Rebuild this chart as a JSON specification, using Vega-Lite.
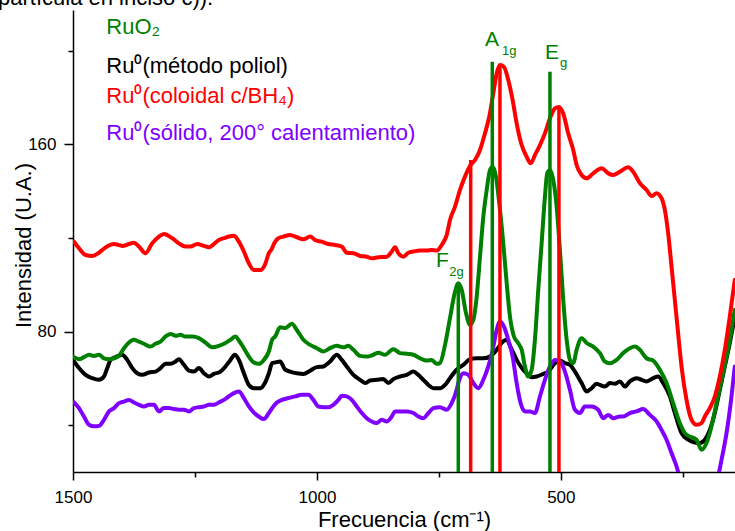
{
  "$schema": "https://vega.github.io/schema/vega-lite/v6.json",
  "width": 662,
  "height": 462,
  "autosize": {"type": "none"},
  "padding": {"left": 73, "top": 10, "right": 0, "bottom": 59},
  "background": "white",
  "config": {"font": "Liberation Sans", "view": {"stroke": null}},
  "datasets": {
    "coloidal": [
      {"freq":1497.9,"int":118.4},{"freq":1487.7,"int":115.6},{"freq":1474.2,"int":112.7},{"freq":1460.5,"int":112.3},{"freq":1446.7,"int":113.7},{"freq":1433.2,"int":116.0},{"freq":1416.0,"int":117.4},{"freq":1399.0,"int":116.6},{"freq":1385.3,"int":117.4},{"freq":1375.1,"int":118.0},{"freq":1364.8,"int":116.3},{"freq":1351.3,"int":113.5},{"freq":1337.6,"int":117.7},{"freq":1323.8,"int":120.6},{"freq":1313.6,"int":121.7},{"freq":1296.6,"int":119.9},{"freq":1282.9,"int":117.7},{"freq":1269.4,"int":116.3},{"freq":1259.1,"int":116.3},{"freq":1245.4,"int":117.4},{"freq":1231.7,"int":116.6},{"freq":1221.4,"int":116.0},{"freq":1211.2,"int":117.4},{"freq":1201.0,"int":119.1},{"freq":1190.7,"int":119.9},{"freq":1180.5,"int":120.6},{"freq":1170.2,"int":120.9},{"freq":1160.0,"int":118.4},{"freq":1149.7,"int":114.2},{"freq":1139.5,"int":109.2},{"freq":1129.3,"int":106.3},{"freq":1115.7,"int":106.3},{"freq":1106.7,"int":108.5},{"freq":1098.5,"int":113.5},{"freq":1091.8,"int":115.6},{"freq":1089.1,"int":117.0},{"freq":1078.9,"int":119.9},{"freq":1068.6,"int":120.6},{"freq":1054.9,"int":121.3},{"freq":1041.2,"int":120.3},{"freq":1027.7,"int":119.4},{"freq":1013.9,"int":120.6},{"freq":1003.7,"int":119.1},{"freq":990.0,"int":118.4},{"freq":976.5,"int":117.4},{"freq":962.7,"int":117.0},{"freq":949.0,"int":116.3},{"freq":938.8,"int":113.7},{"freq":925.2,"int":113.5},{"freq":911.5,"int":112.3},{"freq":897.8,"int":112.0},{"freq":887.6,"int":111.3},{"freq":874.0,"int":111.8},{"freq":856.8,"int":112.0},{"freq":846.6,"int":114.2},{"freq":839.8,"int":116.0},{"freq":833.1,"int":113.5},{"freq":822.8,"int":112.0},{"freq":812.6,"int":113.7},{"freq":802.3,"int":114.2},{"freq":788.6,"int":114.6},{"freq":774.9,"int":114.6},{"freq":764.7,"int":114.9},{"freq":754.4,"int":114.6},{"freq":744.2,"int":117.0},{"freq":733.9,"int":121.3},{"freq":727.2,"int":127.7},{"freq":716.9,"int":133.4},{"freq":706.7,"int":140.5},{"freq":696.5,"int":146.2},{"freq":684.8,"int":151.2},{"freq":676.0,"int":153.3},{"freq":665.7,"int":157.6},{"freq":655.5,"int":164.7},{"freq":646.7,"int":171.8},{"freq":638.5,"int":181.8},{"freq":631.5,"int":190.3},{"freq":624.8,"int":193.9},{"freq":616.6,"int":193.1},{"freq":607.8,"int":187.5},{"freq":598.8,"int":178.9},{"freq":590.6,"int":169.0},{"freq":580.3,"int":159.7},{"freq":570.1,"int":154.7},{"freq":561.9,"int":151.9},{"freq":553.1,"int":155.4},{"freq":542.8,"int":159.7},{"freq":532.6,"int":164.7},{"freq":522.3,"int":171.1},{"freq":512.1,"int":175.4},{"freq":503.9,"int":176.0},{"freq":495.1,"int":173.2},{"freq":484.9,"int":164.7},{"freq":474.6,"int":157.6},{"freq":467.7,"int":151.2},{"freq":457.4,"int":146.9},{"freq":447.2,"int":145.5},{"freq":433.7,"int":147.6},{"freq":416.4,"int":149.8},{"freq":402.9,"int":147.6},{"freq":392.7,"int":146.9},{"freq":379.0,"int":148.3},{"freq":362.0,"int":150.2},{"freq":351.7,"int":148.3},{"freq":338.0,"int":143.4},{"freq":324.3,"int":140.5},{"freq":314.0,"int":137.9},{"freq":303.8,"int":139.1},{"freq":293.6,"int":137.0},{"freq":286.8,"int":132.0},{"freq":280.0,"int":122.0},{"freq":273.1,"int":107.8},{"freq":266.3,"int":93.5},{"freq":259.6,"int":79.3},{"freq":252.6,"int":65.1},{"freq":242.4,"int":50.8},{"freq":232.1,"int":42.3},{"freq":221.9,"int":40.2},{"freq":211.6,"int":40.9},{"freq":204.9,"int":43.7},{"freq":194.6,"int":47.3},{"freq":184.4,"int":52.2},{"freq":174.1,"int":60.8},{"freq":163.9,"int":72.2},{"freq":153.7,"int":86.4},{"freq":143.4,"int":102.1}
    ],
    "ruo2": [
      {"freq":1497.9,"int":69.1},{"freq":1487.7,"int":68.2},{"freq":1477.5,"int":69.1},{"freq":1467.2,"int":70.1},{"freq":1457.0,"int":69.6},{"freq":1446.7,"int":70.1},{"freq":1436.5,"int":68.6},{"freq":1426.3,"int":68.2},{"freq":1416.0,"int":68.6},{"freq":1405.8,"int":69.6},{"freq":1395.5,"int":72.9},{"freq":1385.3,"int":75.3},{"freq":1375.1,"int":76.5},{"freq":1364.8,"int":75.7},{"freq":1354.6,"int":74.8},{"freq":1341.0,"int":73.6},{"freq":1330.8,"int":74.8},{"freq":1320.6,"int":75.7},{"freq":1310.3,"int":77.9},{"freq":1300.1,"int":79.0},{"freq":1289.8,"int":78.2},{"freq":1279.6,"int":78.6},{"freq":1269.4,"int":77.9},{"freq":1255.6,"int":77.9},{"freq":1241.9,"int":77.2},{"freq":1228.4,"int":75.3},{"freq":1214.7,"int":73.3},{"freq":1201.0,"int":73.9},{"freq":1187.4,"int":75.1},{"freq":1177.2,"int":76.5},{"freq":1166.9,"int":77.9},{"freq":1160.0,"int":76.2},{"freq":1149.7,"int":72.9},{"freq":1139.5,"int":69.3},{"freq":1129.3,"int":66.8},{"freq":1119.0,"int":66.2},{"freq":1108.8,"int":67.9},{"freq":1098.5,"int":71.5},{"freq":1091.8,"int":76.5},{"freq":1085.6,"int":77.9},{"freq":1075.4,"int":81.9},{"freq":1065.1,"int":81.5},{"freq":1051.4,"int":83.3},{"freq":1041.2,"int":80.7},{"freq":1027.7,"int":76.5},{"freq":1013.9,"int":74.3},{"freq":1000.2,"int":72.9},{"freq":986.7,"int":71.5},{"freq":973.0,"int":72.9},{"freq":959.3,"int":73.9},{"freq":945.7,"int":73.3},{"freq":935.5,"int":73.9},{"freq":925.2,"int":72.2},{"freq":911.5,"int":69.6},{"freq":897.8,"int":69.3},{"freq":884.3,"int":70.1},{"freq":874.0,"int":71.0},{"freq":860.3,"int":70.1},{"freq":843.3,"int":72.5},{"freq":829.6,"int":70.8},{"freq":815.9,"int":70.5},{"freq":802.3,"int":70.1},{"freq":788.6,"int":68.6},{"freq":774.9,"int":67.6},{"freq":764.7,"int":67.9},{"freq":754.4,"int":66.2},{"freq":747.7,"int":66.6},{"freq":737.4,"int":74.3},{"freq":727.2,"int":85.8},{"freq":716.9,"int":97.0},{"freq":710.2,"int":100.7},{"freq":703.2,"int":97.8},{"freq":694.4,"int":87.9},{"freq":686.2,"int":82.9},{"freq":679.4,"int":85.0},{"freq":672.5,"int":94.9},{"freq":665.7,"int":112.0},{"freq":658.9,"int":129.1},{"freq":652.0,"int":140.5},{"freq":645.2,"int":149.0},{"freq":639.7,"int":150.4},{"freq":633.0,"int":146.2},{"freq":626.2,"int":134.8},{"freq":618.0,"int":117.7},{"freq":611.0,"int":100.7},{"freq":604.3,"int":86.4},{"freq":596.1,"int":77.9},{"freq":587.3,"int":75.0},{"freq":580.3,"int":72.2},{"freq":573.6,"int":65.1},{"freq":566.8,"int":60.8},{"freq":559.8,"int":63.7},{"freq":553.1,"int":76.5},{"freq":546.3,"int":97.8},{"freq":539.4,"int":117.7},{"freq":532.6,"int":137.6},{"freq":527.9,"int":147.6},{"freq":522.3,"int":149.0},{"freq":515.6,"int":144.8},{"freq":508.6,"int":133.4},{"freq":501.9,"int":114.9},{"freq":495.1,"int":93.5},{"freq":488.1,"int":76.5},{"freq":481.4,"int":67.9},{"freq":474.6,"int":66.5},{"freq":467.7,"int":72.2},{"freq":457.4,"int":77.2},{"freq":447.2,"int":75.1},{"freq":433.7,"int":73.6},{"freq":419.9,"int":70.8},{"freq":409.7,"int":67.2},{"freq":399.5,"int":66.5},{"freq":385.7,"int":67.9},{"freq":372.2,"int":70.8},{"freq":358.5,"int":72.9},{"freq":348.2,"int":73.6},{"freq":338.0,"int":72.2},{"freq":324.3,"int":68.6},{"freq":310.7,"int":67.6},{"freq":297.0,"int":63.7},{"freq":283.3,"int":58.0},{"freq":269.8,"int":49.4},{"freq":256.1,"int":40.9},{"freq":245.8,"int":36.6},{"freq":235.6,"int":35.2},{"freq":221.9,"int":33.8},{"freq":211.6,"int":29.5},{"freq":201.4,"int":32.4},{"freq":191.1,"int":39.5},{"freq":180.9,"int":49.4},{"freq":170.6,"int":59.4},{"freq":160.4,"int":69.3},{"freq":150.2,"int":80.7},{"freq":143.4,"int":89.3}
    ],
    "poliol": [
      {"freq":1497.9,"int":67.2},{"freq":1487.7,"int":64.4},{"freq":1474.2,"int":61.5},{"freq":1460.5,"int":60.1},{"freq":1446.7,"int":59.4},{"freq":1436.5,"int":60.8},{"freq":1429.7,"int":64.4},{"freq":1423.0,"int":67.9},{"freq":1412.7,"int":69.1},{"freq":1399.0,"int":70.1},{"freq":1388.8,"int":67.9},{"freq":1378.5,"int":64.4},{"freq":1368.3,"int":62.2},{"freq":1358.1,"int":61.5},{"freq":1344.3,"int":62.5},{"freq":1330.8,"int":62.9},{"freq":1320.6,"int":64.4},{"freq":1310.3,"int":66.2},{"freq":1300.1,"int":66.2},{"freq":1289.8,"int":67.2},{"freq":1282.9,"int":68.2},{"freq":1272.6,"int":65.8},{"freq":1262.4,"int":63.3},{"freq":1252.2,"int":62.9},{"freq":1241.9,"int":64.4},{"freq":1231.7,"int":62.2},{"freq":1221.4,"int":60.8},{"freq":1211.2,"int":61.9},{"freq":1197.7,"int":62.9},{"freq":1187.4,"int":65.1},{"freq":1177.2,"int":67.9},{"freq":1168.2,"int":70.1},{"freq":1160.0,"int":67.9},{"freq":1149.7,"int":62.2},{"freq":1139.5,"int":57.2},{"freq":1129.3,"int":55.8},{"freq":1115.7,"int":55.8},{"freq":1106.7,"int":58.0},{"freq":1098.5,"int":62.2},{"freq":1091.8,"int":66.5},{"freq":1085.6,"int":66.8},{"freq":1075.4,"int":67.2},{"freq":1065.1,"int":63.7},{"freq":1054.9,"int":62.9},{"freq":1041.2,"int":62.2},{"freq":1027.7,"int":61.9},{"freq":1013.9,"int":63.3},{"freq":1000.2,"int":64.8},{"freq":986.7,"int":65.1},{"freq":973.0,"int":67.2},{"freq":959.3,"int":70.1},{"freq":949.0,"int":67.9},{"freq":938.8,"int":65.1},{"freq":925.2,"int":61.5},{"freq":911.5,"int":59.4},{"freq":901.3,"int":58.0},{"freq":891.0,"int":59.1},{"freq":877.3,"int":59.4},{"freq":863.8,"int":59.7},{"freq":853.6,"int":58.0},{"freq":843.3,"int":59.7},{"freq":829.6,"int":60.8},{"freq":815.9,"int":61.5},{"freq":802.3,"int":62.9},{"freq":792.1,"int":61.5},{"freq":781.9,"int":59.4},{"freq":771.6,"int":57.2},{"freq":761.4,"int":55.8},{"freq":747.7,"int":55.8},{"freq":737.4,"int":57.2},{"freq":727.2,"int":60.1},{"freq":713.5,"int":63.7},{"freq":699.9,"int":65.8},{"freq":686.2,"int":68.2},{"freq":672.5,"int":68.6},{"freq":658.9,"int":68.6},{"freq":645.2,"int":69.3},{"freq":631.5,"int":72.2},{"freq":621.3,"int":75.2},{"freq":611.0,"int":76.5},{"freq":602.2,"int":73.0},{"freq":590.6,"int":67.9},{"freq":580.3,"int":64.5},{"freq":570.1,"int":62.2},{"freq":559.8,"int":60.5},{"freq":549.6,"int":60.8},{"freq":536.1,"int":61.9},{"freq":525.8,"int":62.9},{"freq":512.1,"int":66.5},{"freq":501.9,"int":67.6},{"freq":491.6,"int":66.5},{"freq":481.4,"int":65.8},{"freq":471.1,"int":62.9},{"freq":457.4,"int":58.0},{"freq":447.2,"int":54.4},{"freq":436.9,"int":55.8},{"freq":426.7,"int":57.7},{"freq":419.9,"int":57.2},{"freq":409.7,"int":56.5},{"freq":399.5,"int":58.0},{"freq":389.2,"int":57.7},{"freq":379.0,"int":58.7},{"freq":368.7,"int":56.5},{"freq":358.5,"int":58.7},{"freq":344.8,"int":60.1},{"freq":334.5,"int":59.4},{"freq":324.3,"int":58.7},{"freq":310.7,"int":60.1},{"freq":300.5,"int":60.8},{"freq":290.3,"int":58.0},{"freq":276.5,"int":52.3},{"freq":266.3,"int":45.2},{"freq":252.6,"int":36.6},{"freq":239.1,"int":33.8},{"freq":225.3,"int":32.6},{"freq":215.1,"int":32.4},{"freq":204.9,"int":33.8},{"freq":194.6,"int":38.0},{"freq":184.4,"int":45.2},{"freq":174.1,"int":55.1},{"freq":163.9,"int":65.1},{"freq":153.7,"int":75.1},{"freq":143.4,"int":86.4}
    ],
    "solido": [
      {"freq":1497.9,"int":49.7},{"freq":1487.7,"int":47.3},{"freq":1477.5,"int":43.7},{"freq":1467.2,"int":40.2},{"freq":1457.0,"int":39.5},{"freq":1446.7,"int":39.7},{"freq":1436.5,"int":42.3},{"freq":1426.3,"int":45.9},{"freq":1416.0,"int":47.3},{"freq":1405.8,"int":49.4},{"freq":1395.5,"int":50.1},{"freq":1385.3,"int":50.8},{"freq":1375.1,"int":49.7},{"freq":1364.8,"int":48.7},{"freq":1354.6,"int":48.0},{"freq":1344.3,"int":48.7},{"freq":1334.1,"int":48.7},{"freq":1323.8,"int":45.9},{"freq":1313.6,"int":47.3},{"freq":1303.4,"int":47.3},{"freq":1293.1,"int":46.9},{"freq":1282.9,"int":46.6},{"freq":1272.6,"int":46.6},{"freq":1262.4,"int":45.9},{"freq":1252.2,"int":47.3},{"freq":1241.9,"int":47.7},{"freq":1231.7,"int":48.0},{"freq":1221.4,"int":48.7},{"freq":1211.2,"int":48.7},{"freq":1201.0,"int":49.7},{"freq":1190.7,"int":50.8},{"freq":1180.5,"int":52.3},{"freq":1170.2,"int":53.7},{"freq":1160.0,"int":54.4},{"freq":1149.7,"int":51.6},{"freq":1139.5,"int":48.0},{"freq":1129.3,"int":45.4},{"freq":1119.0,"int":43.7},{"freq":1108.8,"int":42.6},{"freq":1098.5,"int":45.2},{"freq":1091.8,"int":47.3},{"freq":1082.2,"int":49.7},{"freq":1071.9,"int":50.8},{"freq":1058.4,"int":51.6},{"freq":1044.7,"int":52.3},{"freq":1030.9,"int":53.0},{"freq":1017.4,"int":53.0},{"freq":1007.2,"int":50.8},{"freq":996.9,"int":48.0},{"freq":986.7,"int":47.7},{"freq":976.5,"int":47.7},{"freq":966.2,"int":48.7},{"freq":956.0,"int":50.8},{"freq":949.0,"int":52.6},{"freq":938.8,"int":52.3},{"freq":928.5,"int":50.8},{"freq":918.3,"int":48.0},{"freq":908.0,"int":45.2},{"freq":897.8,"int":43.0},{"freq":887.6,"int":41.6},{"freq":877.3,"int":40.9},{"freq":867.1,"int":42.3},{"freq":856.8,"int":41.6},{"freq":846.6,"int":43.7},{"freq":839.8,"int":45.9},{"freq":829.6,"int":45.9},{"freq":815.9,"int":45.9},{"freq":802.3,"int":45.2},{"freq":792.1,"int":43.7},{"freq":781.9,"int":43.0},{"freq":771.6,"int":45.2},{"freq":761.4,"int":47.3},{"freq":747.7,"int":47.7},{"freq":733.9,"int":46.6},{"freq":723.7,"int":49.4},{"freq":713.5,"int":55.1},{"freq":710.2,"int":58.0},{"freq":699.9,"int":62.2},{"freq":689.7,"int":61.5},{"freq":679.4,"int":58.0},{"freq":669.2,"int":55.8},{"freq":658.9,"int":59.4},{"freq":648.7,"int":65.1},{"freq":639.7,"int":72.2},{"freq":631.5,"int":80.7},{"freq":624.8,"int":84.3},{"freq":616.6,"int":82.1},{"freq":607.8,"int":76.5},{"freq":598.8,"int":69.3},{"freq":590.6,"int":58.0},{"freq":582.4,"int":49.4},{"freq":573.6,"int":45.9},{"freq":563.3,"int":45.9},{"freq":553.1,"int":45.2},{"freq":542.8,"int":52.3},{"freq":532.6,"int":59.4},{"freq":522.3,"int":65.1},{"freq":512.1,"int":67.9},{"freq":501.9,"int":67.2},{"freq":491.6,"int":62.9},{"freq":481.4,"int":55.1},{"freq":471.1,"int":46.6},{"freq":460.9,"int":45.2},{"freq":450.7,"int":48.0},{"freq":436.9,"int":48.0},{"freq":423.4,"int":46.6},{"freq":413.2,"int":43.0},{"freq":402.9,"int":44.4},{"freq":392.7,"int":43.0},{"freq":379.0,"int":43.7},{"freq":372.2,"int":43.7},{"freq":358.5,"int":45.2},{"freq":344.8,"int":45.9},{"freq":331.2,"int":46.9},{"freq":317.5,"int":44.4},{"freq":303.8,"int":41.6},{"freq":293.6,"int":38.0},{"freq":283.3,"int":33.8},{"freq":273.1,"int":28.1},{"freq":262.8,"int":22.4},{"freq":252.0,"int":14.6},{"freq":235.6,"int":8.2},{"freq":215.1,"int":6.0},{"freq":190.5,"int":10.3},{"freq":178.2,"int":17.6},{"freq":170.6,"int":25.2},{"freq":160.4,"int":36.6},{"freq":150.2,"int":52.3},{"freq":143.4,"int":65.1}
    ],
    "rules": [
      {"serie":"RuO2","freq":710.2,"int":100.7,"base":20},{"serie":"RuO2","freq":640.5,"int":195.3,"base":20},{"serie":"RuO2","freq":522.3,"int":191.0,"base":20},
      {"serie":"coloidal","freq":684.8,"int":153.3,"base":20},{"serie":"coloidal","freq":624.8,"int":193.9,"base":20},{"serie":"coloidal","freq":503.9,"int":176.0,"base":20}
    ],
    "leyenda": [
      {"serie":"RuO2","t":"RuO₂","freq":1431.8,"int":207.1},
      {"serie":"poliol","t":"Ru⁰(método poliol)","freq":1431.8,"int":190.6},
      {"serie":"coloidal","t":"Ru⁰(coloidal c/BH₄)","freq":1431.8,"int":177.5},
      {"serie":"solido","t":"Ru⁰(sólido, 200° calentamiento)","freq":1431.8,"int":161.8}
    ],
    "modos": [
      {"serie":"RuO2","t":"F","freq":755.9,"int":107.5},
      {"serie":"RuO2","t":"A","freq":655.5,"int":202.0},
      {"serie":"RuO2","t":"E","freq":532.6,"int":196.3}
    ],
    "subindices": [
      {"serie":"RuO2","t":"2g","freq":728.6,"int":103.8},
      {"serie":"RuO2","t":"1g","freq":620.7,"int":198.1},
      {"serie":"RuO2","t":"g","freq":501.9,"int":193.0}
    ],
    "encabezado": [
      {"t":"partícula en inciso c)).","freq":1212.6,"int":219.6}
    ]
  },
  "encoding": {
    "x": {
      "field": "freq", "type": "quantitative",
      "scale": {"domain": [1500, 143], "nice": false, "zero": false},
      "axis": {
        "values": [1500, 1250, 1000, 750, 500, 250],
        "labelExpr": "datum.value % 500 === 0 ? datum.label : ''",
        "format": "d", "grid": false, "labelFlush": false, "labelOverlap": false,
        "domainColor": "black", "domainWidth": 1.5, "tickColor": "black", "tickWidth": 1.5,
        "tickSize": {"condition": {"test": "datum.value % 500 !== 0", "value": 5}, "value": 8},
        "labelFontSize": 17, "labelColor": "black", "labelPadding": 9,
        "title": "Frecuencia (cm⁻¹)", "titleFontSize": 22, "titleFontWeight": "normal", "titleColor": "black",
        "titleY": 54, "titleBaseline": "alphabetic"
      }
    },
    "y": {
      "field": "int", "type": "quantitative",
      "scale": {"domain": [20, 217.4], "nice": false, "zero": false},
      "axis": {
        "values": [40, 80, 120, 160, 200],
        "labelExpr": "datum.value % 80 === 0 ? datum.label : ''",
        "grid": false, "labelOverlap": false, "labelFlush": false,
        "domainColor": "black", "domainWidth": 1.5, "tickColor": "black", "tickWidth": 1.5,
        "tickSize": {"condition": {"test": "datum.value % 80 !== 0", "value": 5}, "value": 9},
        "labelFontSize": 17, "labelColor": "black", "labelPadding": 8,
        "title": "Intensidad (U.A.)", "titleFontSize": 22, "titleFontWeight": "normal", "titleColor": "black",
        "titleX": -43, "titleY": 235, "titleBaseline": "alphabetic"
      }
    }
  },
  "layer": [
    {"data": {"name": "poliol"}, "mark": {"type": "line", "color": "#000000", "strokeWidth": 4, "interpolate": "monotone", "clip": true, "strokeJoin": "round", "strokeCap": "round"}, "encoding": {}},
    {"data": {"name": "solido"}, "mark": {"type": "line", "color": "#8000FF", "strokeWidth": 4, "interpolate": "monotone", "clip": true, "strokeJoin": "round", "strokeCap": "round"}, "encoding": {}},
    {"data": {"name": "ruo2"}, "mark": {"type": "line", "color": "#008000", "strokeWidth": 4, "interpolate": "monotone", "clip": true, "strokeJoin": "round", "strokeCap": "round"}, "encoding": {}},
    {"data": {"name": "coloidal"}, "mark": {"type": "line", "color": "#FF0000", "strokeWidth": 4, "interpolate": "monotone", "clip": true, "strokeJoin": "round", "strokeCap": "round"}, "encoding": {}},
    {"data": {"name": "rules"}, "mark": {"type": "rule", "strokeWidth": 3.5, "clip": true},
     "encoding": {"y2": {"field": "base"},
       "color": {"field": "serie", "type": "nominal", "scale": {"domain": ["RuO2", "poliol", "coloidal", "solido"], "range": ["#008000", "#000000", "#FF0000", "#8000FF"]}, "legend": null}}},
    {"data": {"name": "leyenda"}, "mark": {"type": "text", "align": "left", "baseline": "alphabetic", "fontSize": 22},
     "encoding": {"text": {"field": "t"}, "color": {"field": "serie", "type": "nominal", "legend": null}}},
    {"data": {"name": "modos"}, "mark": {"type": "text", "align": "left", "baseline": "alphabetic", "fontSize": 21},
     "encoding": {"text": {"field": "t"}, "color": {"field": "serie", "type": "nominal", "legend": null}}},
    {"data": {"name": "subindices"}, "mark": {"type": "text", "align": "left", "baseline": "alphabetic", "fontSize": 13},
     "encoding": {"text": {"field": "t"}, "color": {"field": "serie", "type": "nominal", "legend": null}}},
    {"data": {"name": "encabezado"}, "mark": {"type": "text", "align": "right", "baseline": "alphabetic", "fontSize": 22, "color": "black"},
     "encoding": {"text": {"field": "t"}}}
  ]
}
